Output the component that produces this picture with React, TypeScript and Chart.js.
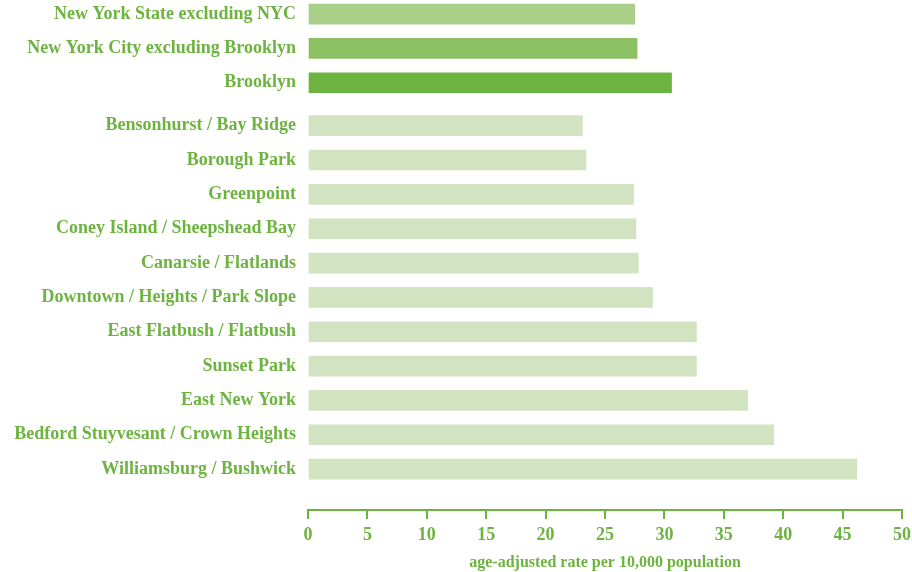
import React, { useEffect, useRef } from "react";
import { Chart, registerables } from "chart.js";

Chart.register(...registerables);

const categories = [
  "New York State excluding NYC",
  "New York City excluding Brooklyn",
  "Brooklyn",
  "Bensonhurst / Bay Ridge",
  "Borough Park",
  "Greenpoint",
  "Coney Island / Sheepshead Bay",
  "Canarsie / Flatlands",
  "Downtown / Heights / Park Slope",
  "East Flatbush / Flatbush",
  "Sunset Park",
  "East New York",
  "Bedford Stuyvesant / Crown Heights",
  "Williamsburg / Bushwick",
];

const rates = [27.5, 27.7, 30.6, 23.1, 23.4, 27.4, 27.6, 27.8, 29.0, 32.7, 32.7, 37.0, 39.2, 46.2];

const xTicks = [0, 5, 10, 15, 20, 25, 30, 35, 40, 45, 50];
const xTitle = "age-adjusted rate per 10,000 population";

const GREEN = "#6db33f";
const barColors = ["#a9cf89", "#8bc163", "#6cb33f"];
const PALE = "#d1e3c0";
const FONT = "'Liberation Serif', 'Times New Roman', serif";

export default function App() {
  const ref = useRef<HTMLCanvasElement | null>(null);

  useEffect(() => {
    if (!ref.current) return;
    // summary rows first, then a small gap before the neighbourhood rows
    const rowPos = categories.map((_, i) => i + (i >= 3 ? 0.25 : 0));
    const chart = new Chart(ref.current, {
      type: "bar",
      data: {
        datasets: [
          {
            data: rates.map((v, i) => ({ x: v, y: rowPos[i] })),
            backgroundColor: rates.map((_, i) => (i < 3 ? barColors[i] : PALE)),
            barThickness: 20,
            borderWidth: 0,
          },
        ],
      },
      options: {
        indexAxis: "y",
        animation: false,
        responsive: true,
        maintainAspectRatio: false,
        layout: { padding: { left: 0, right: 10, top: 0, bottom: 0 } },
        plugins: { legend: { display: false }, tooltip: { enabled: false } },
        scales: {
          y: {
            type: "linear",
            reverse: true,
            offset: false,
            bounds: "data",
            min: -0.41,
            max: 14.44,
            grid: { display: false, drawTicks: false, offset: false },
            border: { display: false },
            afterBuildTicks: (scale: any) => {
              scale.ticks = rowPos.map((v) => ({ value: v }));
            },
            afterFit: (scale: any) => {
              scale.width = 308;
              scale.paddingTop = 0;
              scale.paddingBottom = 0;
            },
            ticks: {
              autoSkip: false,
              padding: 12,
              color: GREEN,
              font: { family: FONT, size: 18, weight: "bold" },
              callback: (_v: any, i: number) => categories[i],
            },
          },
          x: {
            type: "linear",
            min: 0,
            max: 50,
            bounds: "data",
            afterBuildTicks: (scale: any) => {
              scale.ticks = xTicks.map((v) => ({ value: v }));
            },
            afterFit: (scale: any) => {
              scale.height = 62;
              scale.paddingLeft = 0;
              scale.paddingRight = 0;
            },
            grid: {
              display: true,
              drawOnChartArea: false,
              drawTicks: true,
              tickLength: 9,
              color: GREEN,
              lineWidth: 2,
            },
            border: { display: true, color: GREEN, width: 2 },
            ticks: {
              autoSkip: false,
              maxRotation: 0,
              padding: 6,
              color: GREEN,
              font: { family: FONT, size: 18, weight: "bold" },
            },
            title: {
              display: true,
              text: xTitle,
              color: GREEN,
              padding: { top: 0, bottom: 0 },
              font: { family: FONT, size: 16, weight: "bold", lineHeight: 1.1 },
            },
          },
        },
      },
    });
    return () => chart.destroy();
  }, []);

  return (
    <div style={{ position: "absolute", left: 0, top: 0, width: 912, height: 572, background: "#fff" }}>
      <canvas ref={ref} />
    </div>
  );
}
